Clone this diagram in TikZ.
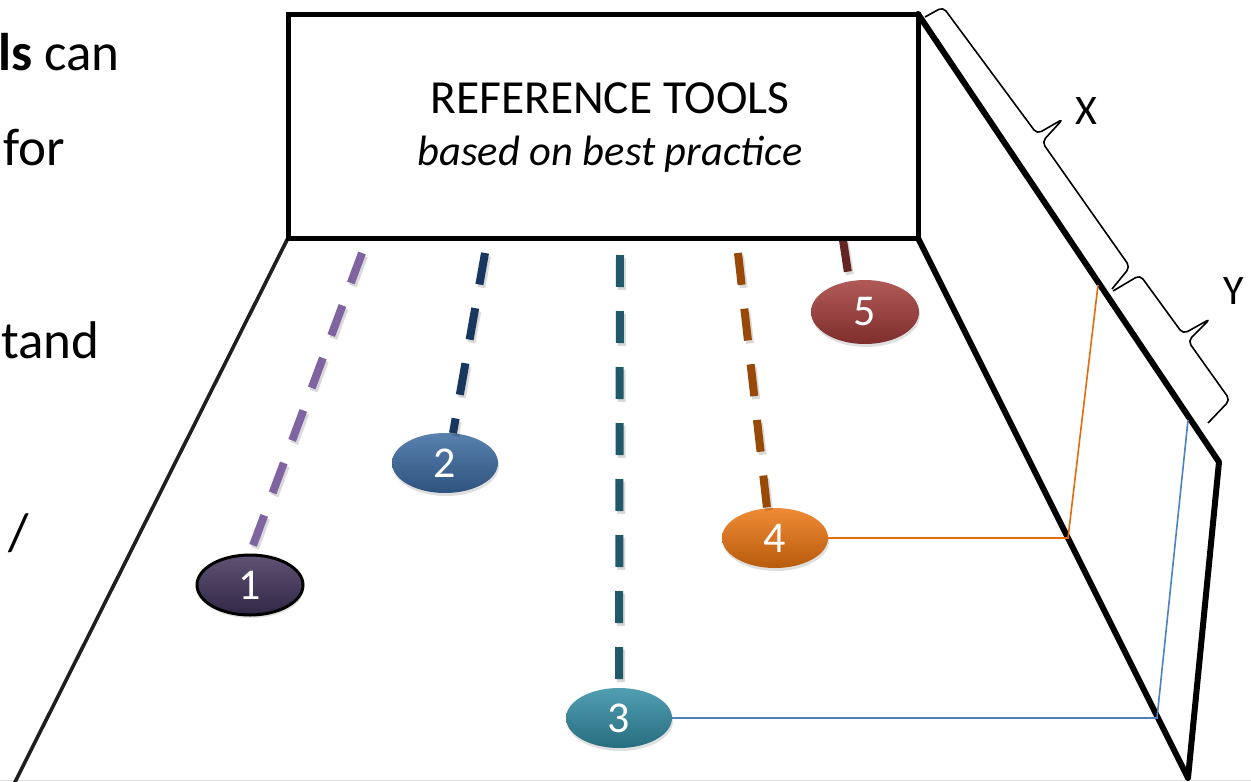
\documentclass[tikz,border=0pt]{standalone}
\usepackage{fontspec}
\setmainfont{Carlito}
\usetikzlibrary{shapes.geometric}
\definecolor{cpA}{HTML}{41325A}
\definecolor{cpB}{HTML}{3A6AA0}
\definecolor{cpC}{HTML}{318CA3}
\definecolor{cpD}{HTML}{EC7510}
\definecolor{cpE}{HTML}{A23B39}
\definecolor{dlA}{HTML}{8064A2}
\definecolor{dlB}{HTML}{17375E}
\definecolor{dlC}{HTML}{215968}
\definecolor{dlD}{HTML}{984807}
\definecolor{dlE}{HTML}{632523}
\definecolor{orl}{HTML}{E46C0A}
\definecolor{bll}{HTML}{4F81BD}
\tikzset{
  gem/.style={ellipse, minimum width=106pt, minimum height=60pt, inner sep=0pt,
    text=white, font=\fontsize{44}{44}\selectfont,
    top color=#1!84!white, middle color=#1, bottom color=#1!78!black},
  dline/.style={line width=8pt, dash pattern=on 32pt off 24pt, draw=#1},
  dshadow/.style={line width=8pt, dash pattern=on 32pt off 24pt, draw=black, opacity=0.15, transform canvas={shift={(2pt,-3pt)}}},
  eshadow/.style={ellipse, minimum width=106pt, minimum height=60pt, inner sep=0pt, fill=black, opacity=0.12},
  heavy/.style={line width=6pt, line join=round, line cap=round},
  thinlink/.style={line width=1.6pt, draw=#1},
  side/.style={font=\fontsize{53}{53}\selectfont, anchor=base west, inner sep=0pt},
  brc/.style={line width=1.6pt, rounded corners=5pt},
}
\begin{document}
\begin{tikzpicture}[x=1pt,y=-1pt]
\useasboundingbox (0,0) rectangle (1251,782);
\fill[white] (0,0) rectangle (1251,782);
\draw[gray!25, line width=1.2pt] (0,780.6) -- (1251,780.6);

% corners
\coordinate (bl) at (288,238);
\coordinate (br) at (918,238);
\coordinate (tr) at (918,14);
\coordinate (wc) at (1219,462);
\coordinate (fc) at (1188,778);
\coordinate (fl) at (13,786);

% left side text
\node[side] (s1) at (-2,70) {\textbf{ls} can};
\node[side] (s2) at (3,165) {for};
\node[side] (s3) at (1,358) {tand};
\node[side] (s4) at (8,550) {/};

% floor and wall
\draw[line width=3.6pt, draw=black!88] (bl) -- (fl);
\draw[heavy] (br) -- (fc) -- (wc) -- (tr);

% points on the wall
\coordinate (o1) at (1068,538);
\coordinate (o2) at (1098,285);
\coordinate (b1) at (1157,718);
\coordinate (b2) at (1188,420);

% ellipse shadows
\node[eshadow] (h1) at (251,588) {};
\node[eshadow] (h2) at (446,466) {};
\node[eshadow] (h3) at (620,721) {};
\node[eshadow] (h4) at (776,541) {};
\node[eshadow, minimum width=108pt, minimum height=64pt] (h5) at (866,315) {};

% ellipses
\node[gem=cpA, draw=black, line width=3pt] (e1) at (250,585) {1};
\node[gem=cpB] (e2) at (445,463) {2};
\node[gem=cpC] (e3) at (619,718) {3};
\node[gem=cpD] (e4) at (775,538) {4};
\node[gem=cpE, minimum width=108pt, minimum height=64pt] (e5) at (865,312) {5};

% dashed connectors
\coordinate (t1) at (362,253);
\coordinate (t2) at (485,253);
\coordinate (t3) at (620,255);
\coordinate (t4) at (738,253);
\coordinate (t5) at (843,240);
\draw[dshadow] (t1) -- (e1.north);
\draw[dshadow] (t2) -- (e2.75);
\draw[dshadow] (t3) -- (e3.north);
\draw[dshadow] (t4) -- (e4.105);
\draw[dshadow] (t5) -- (e5.117);
\draw[dline=dlA] (t1) -- (e1.north);
\draw[dline=dlB] (t2) -- (e2.75);
\draw[dline=dlC] (t3) -- (e3.north);
\draw[dline=dlD] (t4) -- (e4.105);
\draw[dline=dlE] (t5) -- (e5.117);

% thin links to the wall
\draw[thinlink=orl] (e4.east) -- (o1) -- (o2);
\draw[thinlink=bll] (e3.east) -- (b1) -- (b2);

% box
\node[draw=black, line width=5pt, minimum width=630pt, minimum height=224pt, inner sep=0pt, fill=white] (box) at (603,126) {};
\node[anchor=base, inner sep=0pt, font=\fontsize{47.5}{50}\selectfont] (ttl) at (610,113) {REFERENCE TOOLS};
\node[anchor=base, inner sep=0pt, font=\fontsize{42.5}{50}\selectfont\itshape] (sub) at (610,165) {based on best practice};

% braces
\draw[brc] (925,17) -- (943,7) -- (1037,134) -- (1063,119) -- (1042,142) -- (1130,267) -- (1112,289);
\draw[brc] (1113,291) -- (1140,275) -- (1183,334) -- (1210,319) -- (1188,341) -- (1230,400) -- (1208,423);
\node[font=\fontsize{42}{42}\selectfont, inner sep=0pt] (lx) at (1086,111) {X};
\node[font=\fontsize{42}{42}\selectfont, inner sep=0pt] (ly) at (1234,291) {Y};
\end{tikzpicture}
\end{document}
